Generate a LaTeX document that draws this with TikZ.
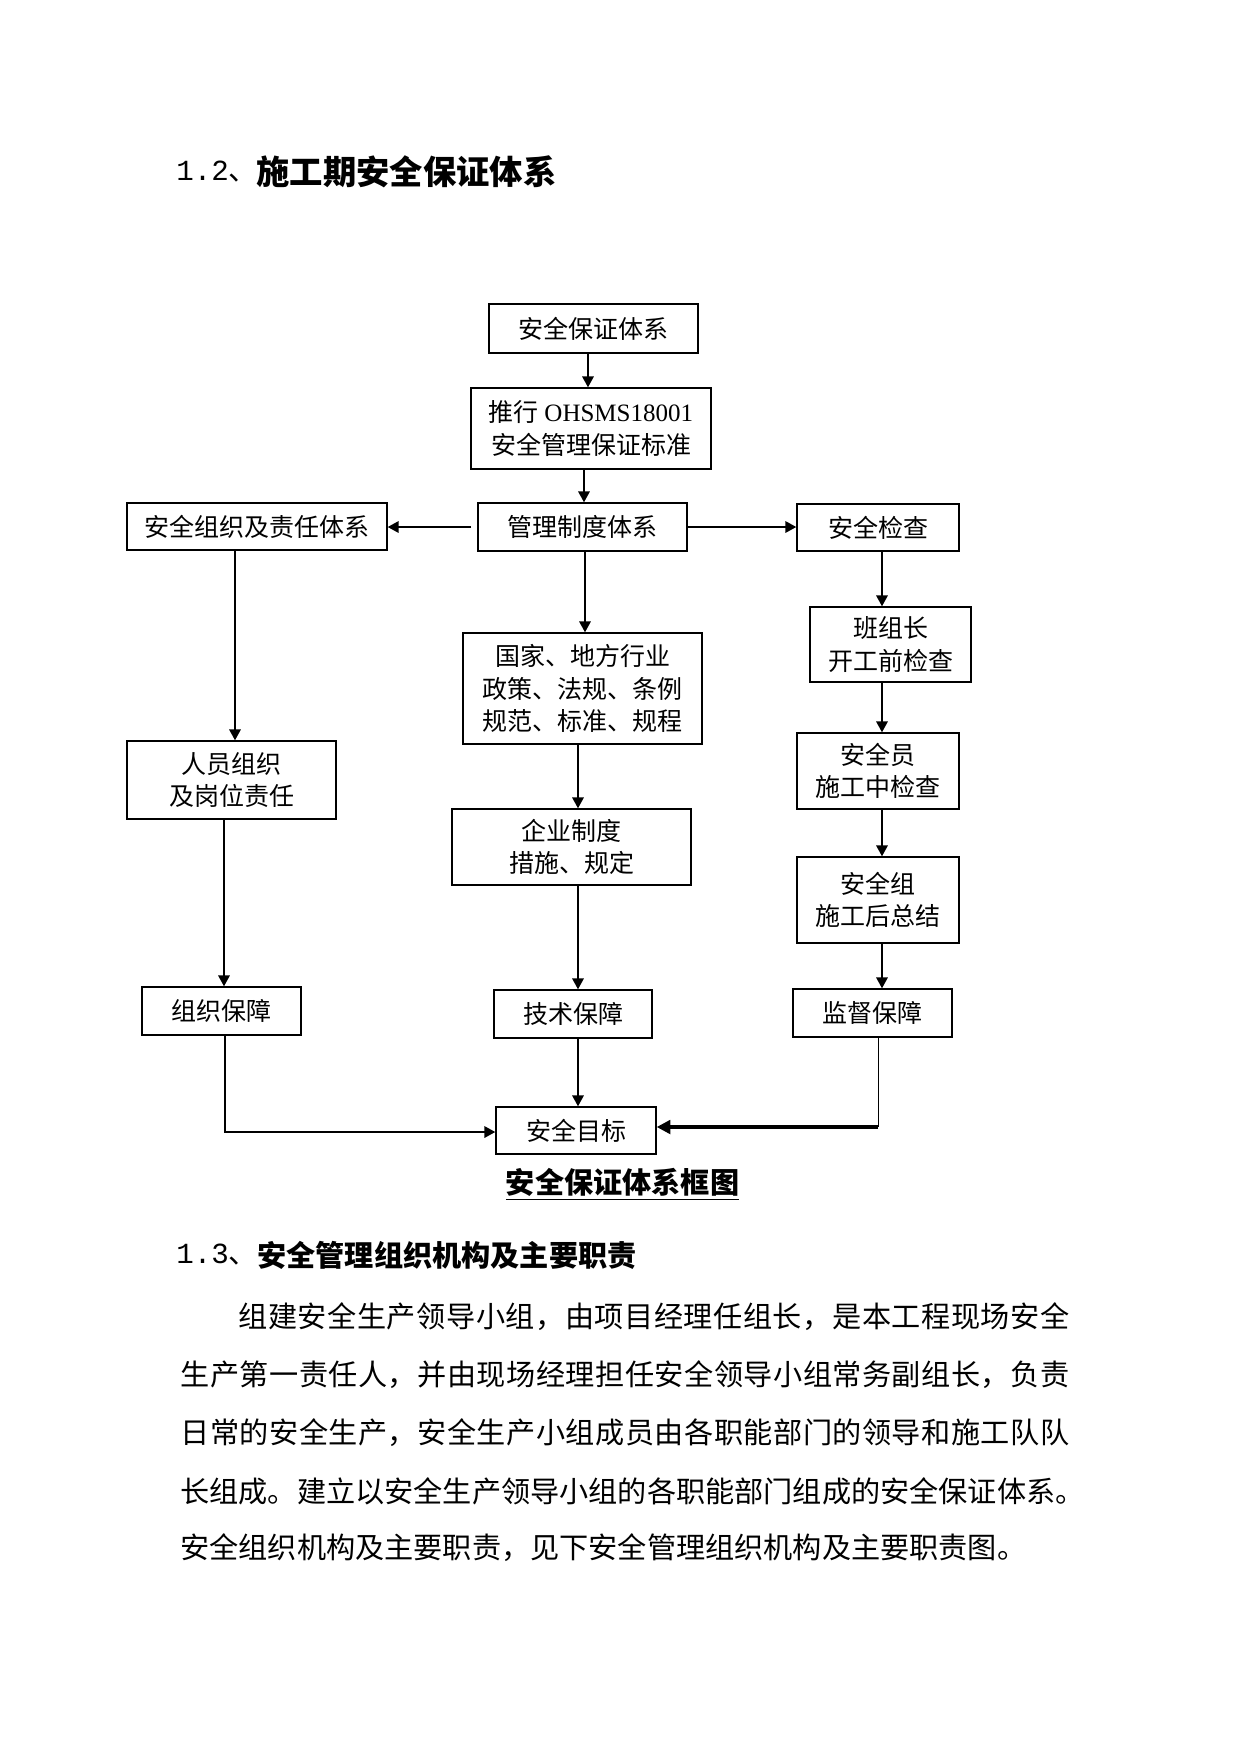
\documentclass[tikz,border=0pt]{standalone}
\usepackage{fontspec}
\setmainfont{Liberation Serif}
\newfontfamily\cjk{Noto Sans CJK SC}
\newfontfamily\monofnt{Liberation Mono}
\usetikzlibrary{arrows.meta}
\makeatletter
\newcommand\spreadline[2]{\hbox to #1{\@tfor\spreadchar:=#2\do{\spreadchar\hfil}\unskip}}
\makeatother
\begin{document}
\begin{tikzpicture}[x=0.48pt,y=-0.48pt,
  bx/.style n args={2}{draw, line width=0.7pt, minimum width={#1*0.48pt}, minimum height={#2*0.48pt}, inner sep=0pt, align=center, font={\cjk\fontsize{12}{15.6}\selectfont}},
  arr/.style={-{Triangle[width=5.5pt,length=5.2pt]}, line width=0.8pt},
  heavyarr/.style={-{Triangle[width=6.5pt,length=6.5pt]}, line width=1.5pt},
  thinline/.style={line width=0.4pt},
  body/.style={anchor=west, inner sep=0pt, font={\cjk\fontsize{14}{16}\selectfont}},
  headnum/.style={anchor=west, inner sep=0pt, font={\monofnt\fontsize{14}{16}\selectfont}},
]
\useasboundingbox (0,0) rectangle (1241,1755);

% headings
\node[headnum] (h12n) at (176,172) {1.2{\cjk 、}};
\node[anchor=west, inner sep=0pt, font={\cjk\bfseries\fontsize{16}{18}\selectfont}] (h12) at (256,172) {施工期安全保证体系};

% boxes
\node[bx={209}{49}] (b1) at (593.5,328.5) {安全保证体系};
\node[bx={240}{81}] (b2) at (591,428.5) {推行 {\rmfamily OHSMS18001}\\安全管理保证标准};
\node[bx={209}{48}] (b3) at (582.5,527) {管理制度体系};
\node[bx={260}{47}] (b4) at (257,526.5) {安全组织及责任体系};
\node[bx={162}{47}] (b5) at (878,527.5) {安全检查};
\node[bx={239}{111}] (b6) at (582.5,688.5) {国家、地方行业\\政策、法规、条例\\规范、标准、规程};
\node[bx={161}{75}] (b7) at (890.5,644.5) {班组长\\开工前检查};
\node[bx={209}{78}] (b8) at (231.5,780) {人员组织\\及岗位责任};
\node[bx={239}{76}] (b9) at (571.5,847) {企业制度\\措施、规定};
\node[bx={162}{76}] (b10) at (878,771) {安全员\\施工中检查};
\node[bx={162}{86}] (b11) at (878,900) {安全组\\施工后总结};
\node[bx={159}{48}] (b12) at (221.5,1011) {组织保障};
\node[bx={158}{48}] (b13) at (573,1014) {技术保障};
\node[bx={159}{48}] (b14) at (872.5,1013) {监督保障};
\node[bx={160}{47}] (b15) at (576,1130.5) {安全目标};

% connectors
\draw[arr] (588,0 |- b1.south) -- (588,0 |- b2.north);
\draw[arr] (584,0 |- b2.south) -- (584,0 |- b3.north);
\draw[arr] ([xshift=-3pt]b3.west) -- (b4.east |- b3.west);
\draw[arr] (b3.east) -- (b5.west |- b3.east);
\draw[arr] (585,0 |- b3.south) -- (585,0 |- b6.north);
\draw[arr] (235,0 |- b4.south) -- (235,0 |- b8.north);
\draw[arr] (882,0 |- b5.south) -- (882,0 |- b7.north);
\draw[arr] (882,0 |- b7.south) -- (882,0 |- b10.north);
\draw[arr] (882,0 |- b10.south) -- (882,0 |- b11.north);
\draw[arr] (882,0 |- b11.south) -- (882,0 |- b14.north);
\draw[arr] (578,0 |- b6.south) -- (578,0 |- b9.north);
\draw[arr] (578,0 |- b9.south) -- (578,0 |- b13.north);
\draw[arr] (578,0 |- b13.south) -- (578,0 |- b15.north);
\draw[arr] (224,0 |- b8.south) -- (224,0 |- b12.north);
\draw[arr] (225,0 |- b12.south) |- (b15.west |- 0,1132);
\coordinate (jn) at (878,1127);
\draw[thinline] (878,0 |- b14.south) -- (jn);
\draw[heavyarr] (jn) -- (b15.east |- jn);

% caption
\node[inner sep=0pt, font={\cjk\bfseries\fontsize{14}{16}\selectfont}] (cap) at (622.5,1184) {\underline{安全保证体系框图}};

% section 1.3
\node[headnum] (h13n) at (176,1255) {1.3{\cjk 、}};
\node[anchor=west, inner sep=0pt, font={\cjk\bfseries\fontsize{14}{16}\selectfont}] (h13) at (257,1255) {安全管理组织机构及主要职责};

\node[body] (p1) at (238,1317) {\spreadline{398.9pt}{组建安全生产领导小组，由项目经理任组长，是本工程现场安全}};
\node[body] (p2) at (180,1375) {\spreadline{426.7pt}{生产第一责任人，并由现场经理担任安全领导小组常务副组长，负责}};
\node[body] (p3) at (180,1433) {\spreadline{426.7pt}{日常的安全生产，安全生产小组成员由各职能部门的领导和施工队队}};
\node[body] (p4) at (180,1491) {\spreadline{428pt}{长组成。建立以安全生产领导小组的各职能部门组成的安全保证体系。}};
\node[body] (p5) at (180,1548) {安全组织机构及主要职责，见下安全管理组织机构及主要职责图。};
\end{tikzpicture}
\end{document}
